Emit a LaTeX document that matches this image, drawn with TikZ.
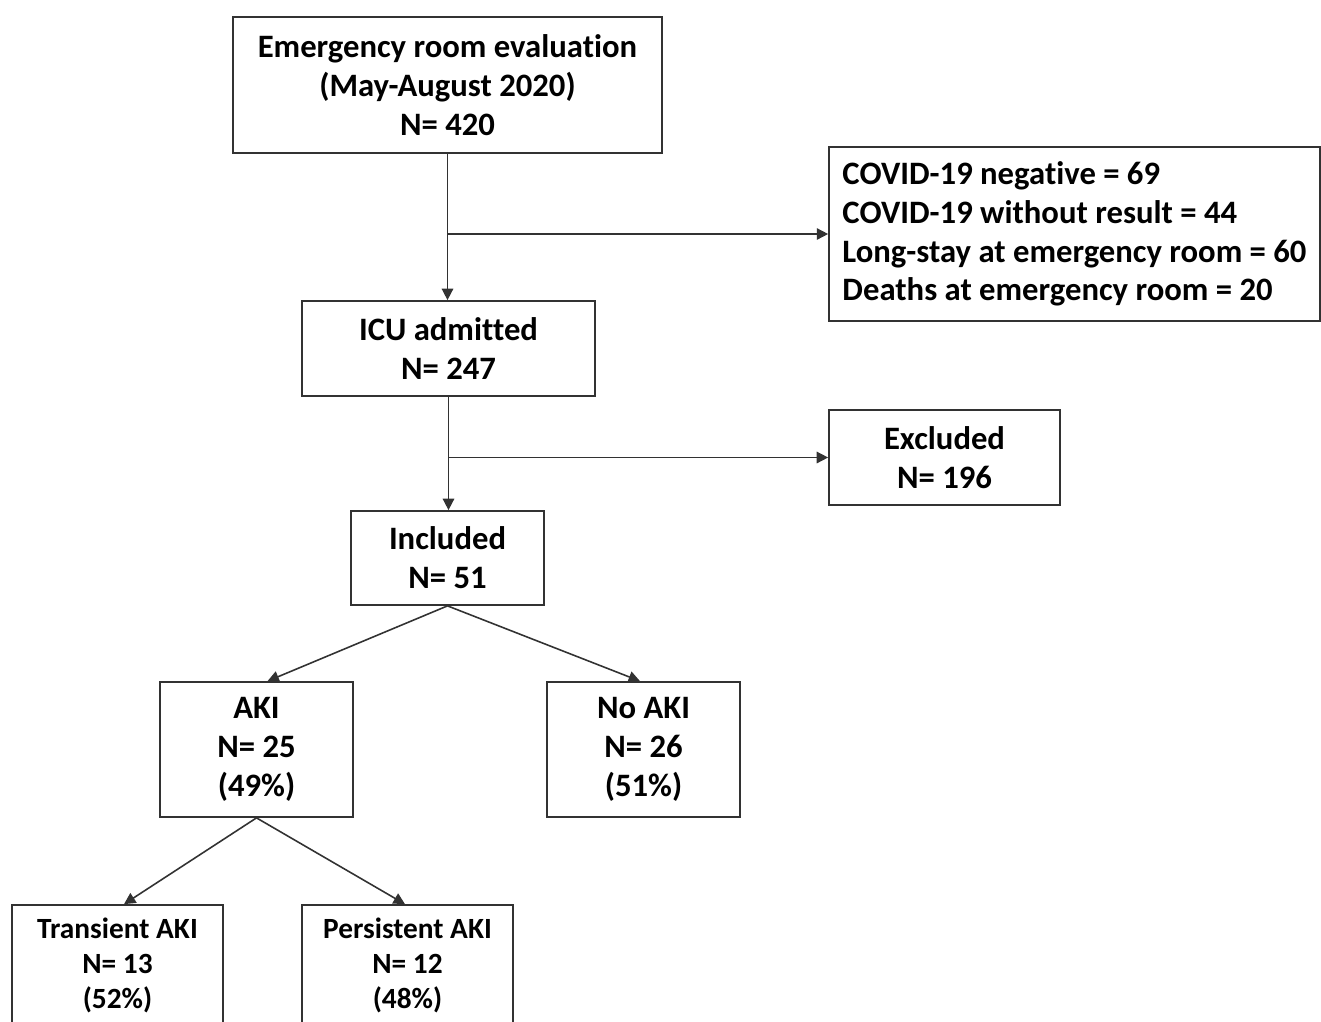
\documentclass[tikz,border=0pt]{standalone}
\usepackage{fontspec}
\setmainfont[Ligatures=NoCommon]{Carlito}
\usetikzlibrary{arrows.meta}

\tikzset{
    flowbox/.style={draw=boxline, line width=1pt, align=center, inner sep=0pt,
        font=\fontsize{18.6}{22.1}\selectfont\bfseries},
    smallbox/.style={flowbox, font=\fontsize{16.7}{19.9}\selectfont\bfseries},
    flowarrow/.style={draw=boxline, line width=0.9pt, -{Triangle[length=6.5pt,width=6.5pt]}}
}

\begin{document}
\begin{tikzpicture}[x=0.02cm, y=-0.02cm]
    \definecolor{boxline}{RGB}{50,50,50}

    \useasboundingbox (0,0) rectangle (1321,1021);

    \node[flowbox, minimum width=8.58cm, minimum height=2.72cm] (er) at (447.5,85)
        {Emergency room evaluation\\(May-August 2020)\\N= 420};
    \node[flowbox, align=left, minimum width=9.82cm, minimum height=3.48cm] (out) at (1074.5,234)
        {COVID-19 negative = 69\\COVID-19 without result = 44\\Long-stay at emergency room = 60\\Deaths at emergency room = 20};
    \node[flowbox, minimum width=5.86cm, minimum height=1.9cm] (icu) at (448.5,348.5)
        {ICU admitted\\N= 247};
    \node[flowbox, minimum width=4.62cm, minimum height=1.9cm] (excl) at (944.5,457.5)
        {Excluded\\N= 196};
    \node[flowbox, minimum width=3.86cm, minimum height=1.88cm] (incl) at (447.5,558)
        {Included\\N= 51};
    \node[flowbox, minimum width=3.86cm, minimum height=2.7cm] (aki) at (256.5,749.5)
        {AKI\\N= 25\\(49\%)};
    \node[flowbox, minimum width=3.86cm, minimum height=2.7cm] (noaki) at (643.5,749.5)
        {No AKI\\N= 26\\(51\%)};
    \node[smallbox, minimum width=4.22cm, minimum height=2.4cm] (trans) at (117.5,965)
        {Transient AKI\\N= 13\\(52\%)};
    \node[smallbox, minimum width=4.22cm, minimum height=2.4cm] (pers) at (407.5,965)
        {Persistent AKI\\N= 12\\(48\%)};

    \draw[flowarrow] (er.south) -- (er.south |- icu.north);
    \draw[flowarrow] (er.south |- out.west) -- (out.west);
    \draw[flowarrow] (icu.south) -- (icu.south |- incl.north);
    \draw[flowarrow] (icu.south |- excl.west) -- (excl.west);
    \draw[flowarrow] (incl.south) -- ([xshift=0.22cm]aki.north);
    \draw[flowarrow] (incl.south) -- ([xshift=-0.07cm]noaki.north);
    \draw[flowarrow] (aki.south) -- ([xshift=0.13cm]trans.north);
    \draw[flowarrow] (aki.south) -- ([xshift=-0.05cm]pers.north);
\end{tikzpicture}
\end{document}
